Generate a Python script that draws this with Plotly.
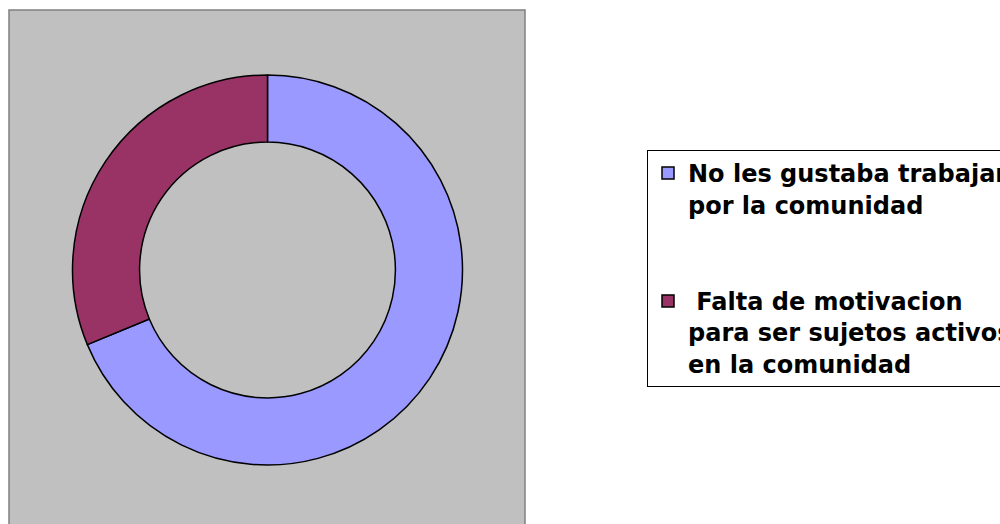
import plotly.graph_objects as go

labels = ["<b>No les gustaba trabajar<br>por la comunidad<br> <br> </b>",
          "<b> Falta de motivacion<br>para ser sujetos activos<br>en la comunidad</b>"]
values = [11, 5]
colors = ["#9999FF", "#993366"]

# figure is wider than the 1000px window so the legend runs off the right edge
W, H = 1100, 524
cx, cy, r = 267.5, 270, 195

fig = go.Figure(go.Pie(
    labels=labels, values=values, hole=0.656, sort=False,
    direction="clockwise", rotation=0,
    marker=dict(colors=colors, line=dict(color="black", width=1.5)),
    textinfo="none", hoverinfo="label+percent",
    domain=dict(x=[(cx - r) / W, (cx + r) / W], y=[1 - (cy + r) / H, 1 - (cy - r) / H]),
))

fig.update_layout(
    width=W, height=H, margin=dict(l=0, r=0, t=0, b=0),
    paper_bgcolor="white", plot_bgcolor="white",
    shapes=[dict(type="rect", xref="paper", yref="paper", layer="below",
                 x0=9 / W, x1=525 / W, y0=-0.05, y1=1 - 10 / H,
                 fillcolor="#C0C0C0", line=dict(color="#808080", width=1.5))],
    legend=dict(x=647 / W, y=1 - 150 / H, xanchor="left", yanchor="top",
                bordercolor="black", borderwidth=1, bgcolor="white",
                font=dict(family="DejaVu Sans", size=24, color="black"), valign="top"),
    showlegend=True,
)

fig.write_html("out.html",
               post_script="document.body.style.margin='0';document.body.style.overflow='hidden';")
